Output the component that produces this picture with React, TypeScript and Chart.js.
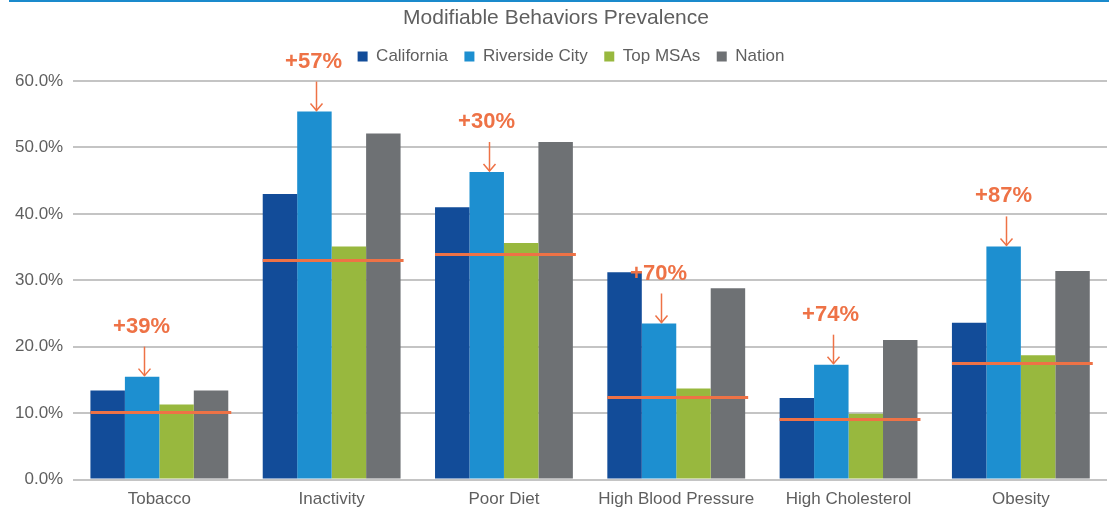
import React, { useEffect, useRef } from "react";
import { Chart, registerables } from "chart.js";

Chart.register(...registerables);

const categories = ["Tobacco", "Inactivity", "Poor Diet", "High Blood Pressure", "High Cholesterol", "Obesity"];
const california = [13.4, 43.0, 41.0, 31.2, 12.3, 23.6];
const riverside = [15.5, 55.4, 46.3, 23.5, 17.3, 35.1];
const topMSAs = [11.3, 35.1, 35.6, 13.7, 9.9, 18.7];
const nation = [13.4, 52.1, 50.8, 28.8, 21.0, 31.4];
const benchmark = [10.2, 33.1, 33.9, 12.4, 9.1, 17.5];
const increaseLabels = ["+39%", "+57%", "+30%", "+70%", "+74%", "+87%"];
const yTicks = [0, 10, 20, 30, 40, 50, 60];

const ORANGE = "#ee7246";
const TEXT = "#5f5f5f";
const FONT = "'Liberation Sans', Arial, sans-serif";

const headerShiftPlugin = {
  id: "headerShift",
  afterLayout(chart: any) {
    if (chart.legend) {
      chart.legend.left += 15;
      chart.legend.right += 15;
      chart.legend.top -= 6;
      chart.legend.bottom -= 6;
    }
    if (chart.titleBlock) {
      chart.titleBlock.top -= 7;
      chart.titleBlock.bottom -= 7;
    }
  },
};

const overlayPlugin = {
  id: "overlay",
  afterDatasetsDraw(chart: any) {
    const ctx = chart.ctx;
    const y = chart.scales.y;
    const m0 = chart.getDatasetMeta(0);
    const m1 = chart.getDatasetMeta(1);
    const m3 = chart.getDatasetMeta(3);
    ctx.save();
    // benchmark lines
    ctx.strokeStyle = ORANGE;
    ctx.lineWidth = 3;
    benchmark.forEach((v, i) => {
      const a = m0.data[i];
      const d = m3.data[i];
      const left = a.x - a.width / 2;
      const right = d.x + d.width / 2 + 3;
      const py = Math.round(y.getPixelForValue(v)) + 0.5;
      ctx.beginPath();
      ctx.moveTo(left, py);
      ctx.lineTo(right, py);
      ctx.stroke();
    });
    // arrows and labels
    increaseLabels.forEach((txt, i) => {
      const b = m1.data[i];
      const x = Math.round(b.x + 2) + 0.5;
      const top = b.y;
      ctx.strokeStyle = ORANGE;
      ctx.lineWidth = 1.5;
      ctx.beginPath();
      ctx.moveTo(x, top - 30);
      ctx.lineTo(x, top - 1);
      ctx.stroke();
      ctx.beginPath();
      ctx.moveTo(x - 6, top - 8);
      ctx.lineTo(x, top - 1);
      ctx.lineTo(x + 6, top - 8);
      ctx.stroke();
      ctx.fillStyle = ORANGE;
      ctx.font = `bold 22px ${FONT}`;
      ctx.textAlign = "center";
      ctx.textBaseline = "middle";
      ctx.fillText(txt, x - 3, top - 50);
    });
    ctx.restore();
  },
};

export default function App() {
  const ref = useRef<HTMLCanvasElement>(null);
  useEffect(() => {
    document.body.style.margin = "0";
    const chart = new Chart(ref.current as HTMLCanvasElement, {
      type: "bar",
      data: {
        labels: categories,
        datasets: [
          { label: "California", data: california, backgroundColor: "#124c99" },
          { label: "Riverside City", data: riverside, backgroundColor: "#1d8fd0" },
          { label: "Top MSAs", data: topMSAs, backgroundColor: "#98b83e" },
          { label: "Nation", data: nation, backgroundColor: "#6e7174" },
        ],
      },
      options: {
        responsive: false,
        animation: false,
        layout: { padding: { left: 5, right: 2, top: 0, bottom: 0 } },
        datasets: { bar: { barPercentage: 1.0, categoryPercentage: 0.8 } },
        plugins: {
          tooltip: { enabled: false },
          title: {
            display: true,
            text: "Modifiable Behaviors Prevalence",
            color: TEXT,
            font: { family: FONT, size: 21, weight: "normal" },
            padding: { top: 6, bottom: 0 },
          },
          legend: {
            display: true,
            position: "top",
            labels: {
              color: TEXT,
              font: { family: FONT, size: 17 },
              boxWidth: 10,
              boxHeight: 10,
              padding: 16.5,
            },
          },
        },
        scales: {
          x: {
            grid: { display: false, drawTicks: false },
            border: { display: false },
            ticks: { color: TEXT, font: { family: FONT, size: 17 }, padding: 10, maxRotation: 0 },
          },
          y: {
            min: 0,
            max: 60,
            afterBuildTicks: (axis: any) => {
              axis.ticks = yTicks.map((v) => ({ value: v }));
            },
            afterFit: (axis: any) => {
              axis.paddingTop = 81;
            },
            grid: { color: "#c4c4c4", lineWidth: 2, drawTicks: false },
            border: { display: false },
            ticks: {
              color: TEXT,
              font: { family: FONT, size: 17 },
              padding: 10,
              callback: (v: any) => Number(v).toFixed(1) + "%",
            },
          },
        },
      },
      plugins: [headerShiftPlugin, overlayPlugin],
    });
    return () => chart.destroy();
  }, []);
  return (
    <div style={{ position: "relative", width: 1109, height: 512, overflow: "hidden", background: "#fff" }}>
      <div style={{ position: "absolute", top: 0, left: 9, right: 0, height: 2, background: "#1a8acc" }} />
      <canvas ref={ref} width={1109} height={520} style={{ display: "block" }} />
    </div>
  );
}
